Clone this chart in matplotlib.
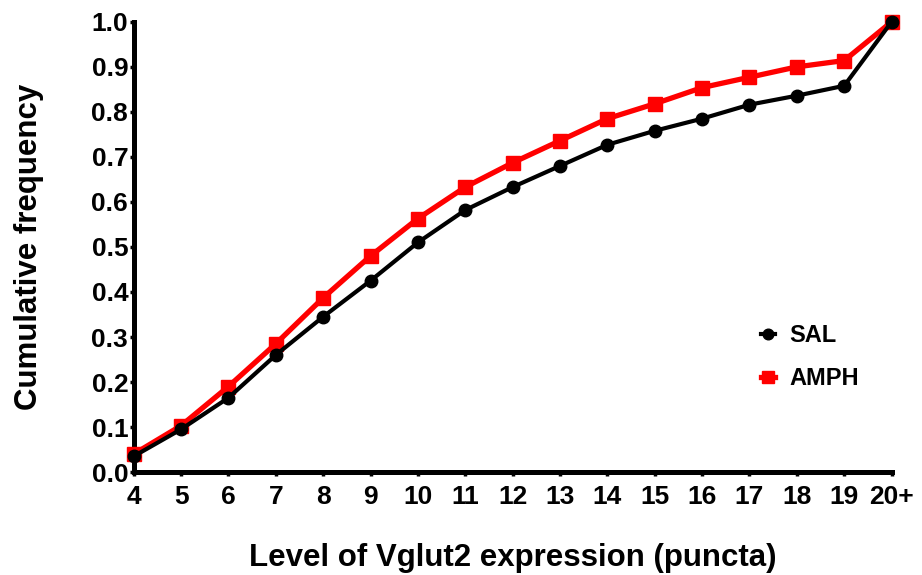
import matplotlib
matplotlib.use("Agg")
import matplotlib.pyplot as plt

plt.rcParams['font.family'] = ['Liberation Sans', 'DejaVu Sans']
plt.rcParams['font.weight'] = 'bold'

levels = list(range(4, 21))
tick_labels = [str(v) for v in range(4, 20)] + ['20+']
sal = [0.035, 0.095, 0.165, 0.26, 0.345, 0.425, 0.51, 0.582, 0.633, 0.68,
       0.727, 0.758, 0.785, 0.816, 0.836, 0.858, 1.0]
amph = [0.04, 0.103, 0.19, 0.285, 0.387, 0.48, 0.563, 0.633, 0.687, 0.736,
        0.785, 0.818, 0.854, 0.877, 0.9, 0.914, 1.0]

fig = plt.figure(figsize=(9.22, 5.75), dpi=100)
ax = fig.add_axes([0.145, 0.179, 0.822, 0.783])

ax.plot(levels, sal, color='black', lw=3, marker='o', ms=9, label='SAL',
        clip_on=False, zorder=4)
ax.plot(levels, amph, color='#ff0000', lw=3.8, marker='s', ms=10.5, label='AMPH',
        clip_on=False, zorder=3)

ax.set_xlim(4, 20)
ax.set_ylim(0, 1.0)
ax.set_xticks(levels)
ax.set_xticklabels(tick_labels)
ax.set_yticks([i / 10 for i in range(11)])
ax.set_yticklabels(['%.1f' % (i / 10) for i in range(11)])

for s in ['top', 'right']:
    ax.spines[s].set_visible(False)
for s in ['left', 'bottom']:
    ax.spines[s].set_linewidth(3.6)

ax.tick_params(axis='both', direction='out', length=3, width=2.5, labelsize=19, pad=1)
ax.tick_params(axis='x', pad=6)
for lab in ax.get_xticklabels() + ax.get_yticklabels():
    lab.set_fontweight('bold')

ax.set_xlabel('Level of Vglut2 expression (puncta)', fontsize=22.5, fontweight='bold', labelpad=25)
ax.set_ylabel('Cumulative frequency', fontsize=22.5, fontweight='bold', labelpad=34)

leg = ax.legend(loc='center left', bbox_to_anchor=(0.8, 0.255), frameon=False,
                fontsize=17, handlelength=0.6, handletextpad=0.6, labelspacing=0.85,
                markerscale=0.85)
for t in leg.get_texts():
    t.set_fontweight('bold')

fig.savefig('out.png', dpi=100)
